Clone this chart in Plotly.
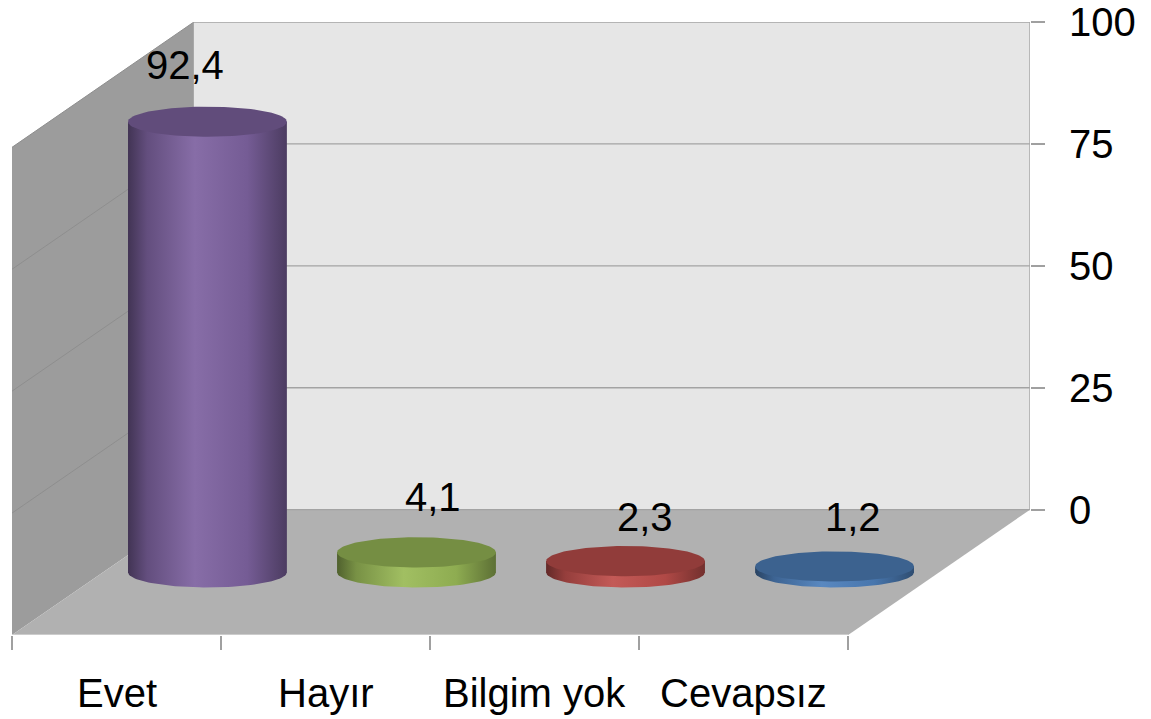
import numpy as np
import plotly.graph_objects as go

# ---- data ----
categories = ["Evet", "Hayır", "Bilgim yok", "Cevapsız"]
values = [92.4, 4.1, 2.3, 1.2]
value_labels = ["92,4", "4,1", "2,3", "1,2"]
axis_ticks = [0, 25, 50, 75, 100]

# ---- style ----
base_colors = ["#8064A2", "#9BBB59", "#C0504D", "#4F81BD"]
label_shift = [(-22, 57), (17, 55), (19, 44), (18, 49)]
FONT = "Liberation Sans"
FS = 40
DX = 0.87      # depth offset in category bands
DY = 25.7      # depth offset in value units
RX = 0.38      # cylinder radius (bands)
RY = 3.1       # ellipse half height (value units)
YMAX = 100
N = len(categories)


def hex2rgb(h):
    h = h.lstrip("#")
    return np.array([int(h[i:i + 2], 16) for i in (0, 2, 4)], float)


def shade(h, f):
    c = hex2rgb(h)
    if f <= 1:
        c = c * f
    else:
        c = c + (255 - c) * (f - 1)
    c = np.clip(c, 0, 255).astype(int)
    return "rgb(%d,%d,%d)" % tuple(c)


fig = go.Figure()

# walls / floor as shapes
shapes = []
# back wall
shapes.append(dict(type="path", xref="x", yref="y", layer="below",
                   path=f"M {DX},{DY} L {N+DX},{DY} L {N+DX},{YMAX+DY} L {DX},{YMAX+DY} Z",
                   fillcolor="#E6E6E6", line=dict(width=0)))
# left wall
shapes.append(dict(type="path", xref="x", yref="y", layer="below",
                   path=f"M 0,0 L {DX},{DY} L {DX},{YMAX+DY} L 0,{YMAX} Z",
                   fillcolor="#9C9C9C", line=dict(width=0)))
# floor
shapes.append(dict(type="path", xref="x", yref="y", layer="below",
                   path=f"M 0,0 L {N},0 L {N+DX},{DY} L {DX},{DY} Z",
                   fillcolor="#B1B1B1", line=dict(width=0)))
# gridlines
for t in axis_ticks:
    shapes.append(dict(type="line", xref="x", yref="y", layer="below",
                       x0=DX, x1=N + DX, y0=DY + t, y1=DY + t,
                       line=dict(color="#A3A3A3", width=1.3)))
    if t > 0:
        shapes.append(dict(type="line", xref="x", yref="y", layer="below",
                           x0=0, x1=DX, y0=t, y1=DY + t,
                           line=dict(color="#8E8E8E", width=1)))
# back wall right edge
shapes.append(dict(type="line", xref="x", yref="y", layer="below",
                   x0=N + DX, x1=N + DX, y0=DY, y1=YMAX + DY,
                   line=dict(color="#A8A8A8", width=1.5)))
# front floor edge
shapes.append(dict(type="line", xref="x", yref="y", layer="below",
                   x0=0, x1=N, y0=0, y1=0,
                   line=dict(color="#D6D6D6", width=1.5)))

# cylinders
th = np.linspace(0, 2 * np.pi, 121)
lower = np.linspace(0, -np.pi, 61)
annotations = []
for i, (cat, v, col) in enumerate(zip(categories, values, base_colors)):
    xc = i + 0.5 + DX / 2
    yb = DY / 2
    yt = yb + v
    bx = np.concatenate([[xc - RX, xc + RX], xc + RX * np.cos(lower)])
    by = np.concatenate([[yt, yt], yb + RY * np.sin(lower)])
    fig.add_trace(go.Scatter(
        x=bx, y=by, mode="lines", fill="toself", line=dict(width=0),
        fillgradient=dict(type="horizontal", colorscale=[
            [0.0, shade(col, 0.52)], [0.12, shade(col, 0.78)],
            [0.42, shade(col, 1.06)], [0.75, shade(col, 0.92)],
            [1.0, shade(col, 0.6)]]),
        hoverinfo="skip", showlegend=False))
    fig.add_trace(go.Scatter(
        x=xc + RX * np.cos(th), y=yt + RY * np.sin(th), mode="lines",
        fill="toself", fillcolor=shade(col, 0.76), line=dict(width=0),
        hoverinfo="skip", showlegend=False))
    dx, dy = label_shift[i]
    annotations.append(dict(x=xc, y=yt, xref="x", yref="y", text=value_labels[i],
                            showarrow=False, xshift=dx, yshift=dy,
                            font=dict(family=FONT, size=FS, color="black")))
    annotations.append(dict(x=i + 0.5, y=0, xref="x", yref="y", text=cat,
                            showarrow=False, yshift=-58, yanchor="middle",
                            font=dict(family=FONT, size=FS, color="black")))

# dummy trace for the right value axis
fig.add_trace(go.Scatter(x=[0], y=[0], yaxis="y2", mode="markers",
                         marker=dict(opacity=0), hoverinfo="skip", showlegend=False))

fig.update_layout(
    width=1151, height=719,
    margin=dict(l=12, r=121, t=22, b=84, autoexpand=False),
    paper_bgcolor="white", plot_bgcolor="white",
    shapes=shapes, annotations=annotations,
    xaxis=dict(range=[0, N + DX], showgrid=False, zeroline=False, showline=False,
               tickvals=list(range(N + 1)), ticks="outside", ticklen=14,
               tickcolor="#A0A0A0", tickwidth=1.5, showticklabels=False,
               fixedrange=True, automargin=False),
    yaxis=dict(range=[0, YMAX + DY], showgrid=False, zeroline=False,
               showline=False, showticklabels=False, fixedrange=True,
               automargin=False),
    yaxis2=dict(range=[-DY, YMAX], overlaying="y", side="right", anchor="x",
                tickvals=axis_ticks, ticks="outside", ticklen=14,
                tickcolor="#A0A0A0", tickwidth=1.5, showgrid=False,
                zeroline=False, showline=False, ticklabelstandoff=16,
                tickfont=dict(family=FONT, size=FS, color="black"),
                fixedrange=True, automargin=False),
)

fig.write_html("out.html", config={"displayModeBar": False},
               post_script="document.body.style.margin='0';")
